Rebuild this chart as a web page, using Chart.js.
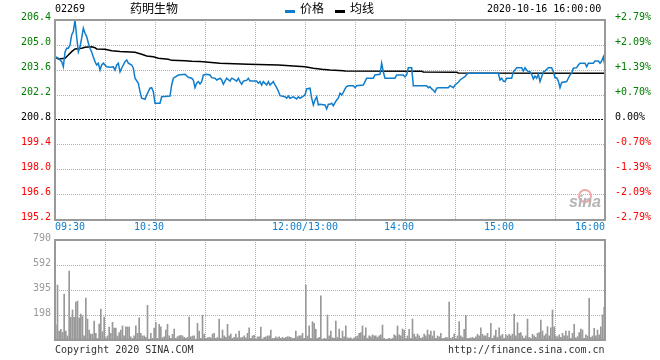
<!DOCTYPE html>
<html>
<head>
<meta charset="utf-8">
<script src="https://cdn.jsdelivr.net/npm/chart.js@4.4.0/dist/chart.umd.min.js"></script>
<style>
  body { margin: 0; background: #fff; }
  #wrap { position: relative; width: 660px; height: 360px; font-family: "DejaVu Sans Mono", monospace; font-size: 10px; color: #000; }
  #wrap canvas { position: absolute; left: 0; }
  .t { position: absolute; line-height: 12px; white-space: pre; }
  .cjk { font-family: "Noto Sans CJK SC", sans-serif; font-size: 12px; line-height: 14px; }
  .key { position: absolute; top: 10px; width: 10px; height: 3px; }
</style>
</head>
<body>
<div id="wrap">
  <canvas id="priceChart" width="660" height="240" style="top:0"></canvas>
  <canvas id="volChart" width="660" height="130" style="top:230px"></canvas>

  <div class="t" style="left:55px;top:3px">02269</div>
  <div class="t cjk" style="left:130px;top:1px">药明生物</div>
  <div class="key" style="left:285px;background:#0f7dcc"></div>
  <div class="t cjk" style="left:300px;top:1px">价格</div>
  <div class="key" style="left:335px;background:#000"></div>
  <div class="t cjk" style="left:350px;top:1px">均线</div>
  <div class="t" style="left:487px;top:3px">2020-10-16 16:00:00</div>

  <div style="position:absolute;left:578px;top:189px;width:10px;height:10px;border:2px solid #f3a7a7;border-radius:50%"></div>
  <div class="t" style="left:569px;top:194px;font:italic bold 16px 'Liberation Sans',sans-serif;color:#b4b4b4;line-height:16px">sina</div>

  <div class="t" style="left:55px;top:344px;color:#333">Copyright 2020 SINA.COM</div>
  <div class="t" style="left:448px;top:344px;color:#333">http://finance.sina.com.cn</div>
</div>

<script>
// 昨收
const prevClose = 200.8;

// 分时价格 (距开盘分钟数, 价格)
const priceMinutes = [0, 2, 4, 5, 6, 7, 8, 9, 10, 11, 12, 13, 14, 15, 16, 17, 18, 19, 20, 21, 22, 23, 24, 25, 26, 27, 28, 29, 31, 33, 35, 36, 37, 38, 39, 40, 42, 43, 44, 46, 47, 48, 50, 51, 52, 54, 55, 56, 57, 58, 59, 60, 63, 64, 69, 70, 71, 74, 78, 80, 82, 83, 84, 85, 86, 87, 88, 89, 91, 93, 94, 96, 97, 99, 100, 101, 102, 103, 105, 106, 107, 109, 110, 111, 112, 113, 115, 116, 117, 121, 122, 123, 124, 125, 127, 128, 129, 131, 132, 133, 134, 135, 138, 139, 140, 141, 143, 145, 146, 147, 149, 150, 151, 153, 154, 155, 156, 157, 158, 159, 162, 163, 164, 165, 166, 167, 168, 169, 170, 171, 172, 173, 174, 175, 176, 179, 180, 181, 185, 186, 187, 191, 192, 195, 196, 197, 198, 204, 205, 209, 210, 211, 212, 214, 215, 223, 224, 225, 226, 227, 228, 229, 230, 236, 237, 239, 240, 242, 243, 245, 246, 247, 248, 266, 267, 268, 269, 270, 271, 274, 275, 276, 277, 280, 281, 282, 283, 284, 285, 286, 287, 288, 289, 290, 291, 292, 293, 294, 296, 298, 299, 300, 301, 302, 303, 304, 307, 308, 309, 310, 311, 313, 314, 315, 318, 319, 320, 323, 324, 326, 327, 328, 329, 330];
const priceValues = [204.34, 204.26, 204.07, 203.78, 204.6, 204.82, 204.82, 205.0, 205.56, 205.75, 206.4, 205.46, 204.62, 204.9, 205.38, 205.94, 205.66, 205.47, 205.11, 204.82, 204.61, 204.33, 204.07, 203.88, 203.98, 203.6, 203.88, 203.98, 203.78, 203.75, 203.78, 203.6, 203.88, 203.98, 203.5, 203.7, 204.07, 204.16, 203.98, 203.88, 203.7, 203.14, 202.86, 202.39, 202.02, 201.96, 202.2, 202.39, 202.58, 202.61, 202.39, 201.74, 201.74, 202.1, 202.14, 202.76, 203.14, 203.32, 203.36, 203.19, 203.14, 203.04, 202.61, 202.86, 202.95, 202.82, 202.95, 203.32, 203.36, 203.32, 203.17, 203.14, 203.04, 203.14, 203.04, 202.8, 202.98, 203.14, 202.98, 203.14, 203.1, 202.98, 203.14, 202.95, 202.8, 202.98, 203.02, 203.14, 202.98, 202.98, 202.86, 202.95, 202.76, 202.95, 202.76, 202.95, 202.76, 202.95, 202.76, 202.61, 202.42, 202.16, 202.1, 202.02, 202.14, 202.02, 202.1, 201.98, 202.1, 202.02, 202.14, 202.2, 202.54, 202.58, 202.02, 201.64, 201.92, 202.1, 201.64, 201.68, 201.64, 201.42, 201.68, 201.68, 201.74, 201.6, 201.77, 201.92, 202.02, 202.3, 202.2, 202.35, 202.54, 202.67, 202.72, 202.72, 202.61, 202.72, 202.76, 202.95, 203.14, 203.14, 203.32, 203.36, 203.98, 203.49, 203.14, 203.14, 203.32, 203.32, 203.21, 203.32, 203.73, 203.73, 202.72, 202.72, 202.61, 202.66, 202.54, 202.48, 202.35, 202.58, 202.61, 202.61, 202.72, 202.61, 202.76, 202.91, 203.04, 203.17, 203.22, 203.36, 203.42, 203.42, 203.04, 203.14, 202.98, 202.95, 203.14, 203.14, 203.5, 203.6, 203.73, 203.73, 203.54, 203.73, 203.6, 203.5, 203.5, 203.36, 203.1, 203.26, 203.14, 203.36, 202.95, 203.22, 203.5, 203.54, 203.73, 203.73, 203.5, 203.17, 203.17, 202.98, 202.61, 202.9, 202.95, 203.14, 203.32, 203.42, 203.7, 203.73, 203.88, 203.98, 203.98, 203.78, 203.98, 203.98, 204.1, 204.1, 203.98, 204.1, 204.34, 203.78];

// 均线
const avgMinutes = [0, 2, 6, 8, 10, 12, 16, 18, 22, 24, 25, 30, 34, 39, 48, 52, 55, 59, 62, 68, 70, 78, 82, 87, 99, 116, 134, 150, 155, 160, 165, 173, 174, 220, 221, 241, 242, 330];
const avgValues = [204.34, 204.22, 204.26, 204.44, 204.63, 204.78, 204.82, 204.87, 204.9, 204.85, 204.78, 204.76, 204.68, 204.63, 204.59, 204.48, 204.38, 204.34, 204.26, 204.2, 204.14, 204.12, 204.09, 204.07, 203.98, 203.92, 203.88, 203.78, 203.7, 203.64, 203.6, 203.56, 203.54, 203.53, 203.49, 203.47, 203.43, 203.42];

// 成交量 (每分钟)
const volume = [
  120, 434, 71, 84, 60, 363, 71, 32, 545, 179,
  237, 179, 300, 308, 176, 205, 190, 32, 332, 166,
  79, 47, 47, 150, 53, 13, 126, 245, 66, 182,
  18, 32, 103, 53, 140, 95, 95, 32, 58, 79,
  111, 32, 105, 103, 103, 26, 13, 32, 111, 53,
  176, 53, 32, 32, 21, 274, 8, 53, 13, 95,
  140, 13, 124, 105, 18, 26, 79, 124, 32, 13,
  45, 87, 13, 26, 32, 37, 32, 21, 13, 21,
  182, 26, 32, 32, 8, 132, 71, 13, 195, 47,
  13, 18, 21, 18, 47, 53, 13, 21, 166, 13,
  79, 32, 21, 124, 32, 47, 13, 21, 47, 18,
  71, 18, 21, 32, 18, 53, 97, 13, 32, 37,
  8, 24, 26, 103, 8, 21, 26, 32, 32, 79,
  13, 13, 26, 18, 26, 13, 21, 13, 21, 26,
  26, 21, 13, 13, 71, 26, 32, 32, 53, 13,
  434, 32, 111, 13, 145, 132, 84, 13, 21, 348,
  5, 13, 10, 198, 32, 71, 18, 13, 150, 21,
  87, 13, 71, 26, 111, 18, 13, 18, 8, 18,
  26, 32, 53, 58, 111, 32, 97, 13, 32, 26,
  40, 32, 32, 21, 32, 40, 118, 13, 5, 8,
  13, 8, 13, 40, 32, 111, 40, 32, 87, 79,
  13, 32, 84, 13, 166, 47, 26, 47, 32, 13,
  21, 47, 32, 79, 40, 71, 32, 71, 13, 32,
  26, 53, 13, 13, 21, 18, 300, 13, 21, 47,
  13, 32, 145, 32, 21, 84, 195, 13, 13, 18,
  21, 13, 26, 45, 32, 97, 45, 32, 32, 53,
  21, 132, 13, 32, 79, 21, 97, 32, 45, 13,
  40, 32, 45, 32, 47, 205, 32, 137, 53, 58,
  32, 13, 32, 166, 21, 13, 45, 32, 21, 53,
  58, 158, 71, 32, 47, 105, 32, 97, 237, 105,
  32, 26, 40, 21, 53, 32, 71, 32, 71, 13,
  53, 124, 18, 26, 58, 87, 79, 13, 40, 32,
  329, 21, 32, 92, 32, 79, 40, 105, 198, 258
];

// 刻度
const priceTicks = [195.2, 196.6, 198.0, 199.4, 200.8, 202.2, 203.6, 205.0, 206.4];
const pctLabels = ['-2.79%', '-2.09%', '-1.39%', '-0.70%', '0.00%', '+0.70%', '+1.39%', '+2.09%', '+2.79%'];
const timeTickMinutes = [0, 60, 150, 210, 270, 330];
const timeTickLabels = ['09:30', '10:30  ', '12:00/13:00', '14:00  ', '15:00  ', '16:00'];
const volTicks = [0, 197.5, 395, 592.5, 790];
const volLabels = ['', '198', '395', '592', '790'];

const MONO = { family: 'DejaVu Sans Mono', size: 10 };
const GRID = '#b0b0b0';
const GREEN = '#008000';
const RED = '#ff0000';

function tickColor(v) {
    if (Math.abs(v - prevClose) < 0.001) return '#000';
    return v > prevClose ? GREEN : RED;
}

// 外框
const framePlugin = {
    id: 'frame',
    afterDraw(chart) {
        const a = chart.chartArea;
        const ctx = chart.ctx;
        ctx.save();
        ctx.strokeStyle = '#999';
        ctx.lineWidth = 2;
        ctx.strokeRect(a.left, a.top, a.right - a.left, a.bottom - a.top);
        ctx.restore();
    }
};

new Chart(document.getElementById('priceChart'), {
    type: 'line',
    data: {
        datasets: [{
            label: '价格',
            data: priceMinutes.map((m, i) => ({ x: m, y: priceValues[i] })),
            borderColor: '#0f7dcc',
            borderWidth: 1.5,
            pointRadius: 0,
            tension: 0,
            yAxisID: 'y'
        }, {
            label: '均线',
            data: avgMinutes.map((m, i) => ({ x: m, y: avgValues[i] })),
            borderColor: '#000',
            borderWidth: 1.5,
            pointRadius: 0,
            tension: 0,
            yAxisID: 'y'
        }]
    },
    options: {
        responsive: false,
        animation: false,
        layout: { padding: { top: 20 } },
        plugins: { legend: { display: false }, tooltip: { enabled: false } },
        scales: {
            x: {
                type: 'linear',
                min: 0,
                max: 330,
                afterFit: s => { s.height = 20; },
                afterBuildTicks: s => { s.ticks = [0, 30, 60, 90, 120, 150, 180, 210, 240, 270, 300, 330].map(v => ({ value: v })); },
                ticks: {
                    autoSkip: false,
                    maxRotation: 0,
                    align: 'inner',
                    padding: 1,
                    color: '#0f7dcc',
                    font: MONO,
                    callback: v => {
                        const i = timeTickMinutes.indexOf(v);
                        return i >= 0 ? timeTickLabels[i] : '';
                    }
                },
                grid: { color: GRID, drawTicks: false, lineWidth: 1 },
                border: { display: false, dash: [1, 1] }
            },
            y: {
                position: 'left',
                min: 195.2,
                max: 206.4,
                afterFit: s => { s.width = 55; },
                afterBuildTicks: s => { s.ticks = priceTicks.map(v => ({ value: v })); },
                ticks: {
                    padding: 4,
                    labelOffset: -3,
                    font: MONO,
                    color: c => tickColor(c.tick.value),
                    callback: v => v.toFixed(1)
                },
                grid: {
                    drawTicks: false,
                    color: c => (c.tick && Math.abs(c.tick.value - prevClose) < 0.001) ? '#000' : GRID
                },
                border: {
                    display: false,
                    dash: c => (c.tick && Math.abs(c.tick.value - prevClose) < 0.001) ? [2, 1] : [1, 1]
                }
            },
            y2: {
                position: 'right',
                min: 195.2,
                max: 206.4,
                afterFit: s => { s.width = 55; },
                afterBuildTicks: s => { s.ticks = priceTicks.map(v => ({ value: v })); },
                ticks: {
                    padding: 2,
                    labelOffset: -3,
                    font: MONO,
                    color: c => tickColor(c.tick.value),
                    callback: (v, i) => pctLabels[i]
                },
                grid: { display: false },
                border: { display: false }
            }
        }
    },
    plugins: [framePlugin]
});

// 分钟标签
const minuteLabels = volume.map((_, i) => {
    let t = i < 150 ? 570 + i + 1 : 780 + (i - 150) + 1;
    return String(Math.floor(t / 60)).padStart(2, '0') + ':' + String(t % 60).padStart(2, '0');
});

new Chart(document.getElementById('volChart'), {
    type: 'bar',
    data: {
        labels: minuteLabels,
        datasets: [{
            label: '成交量',
            data: volume,
            backgroundColor: '#999',
            barThickness: 1,
            borderWidth: 0
        }]
    },
    options: {
        responsive: false,
        animation: false,
        layout: { padding: { top: 10, right: 55, bottom: 20 } },
        plugins: { legend: { display: false }, tooltip: { enabled: false } },
        scales: {
            x: {
                type: 'category',
                afterFit: s => { s.height = 0; },
                ticks: { display: false, autoSkip: false },
                grid: {
                    offset: true,
                    drawTicks: false,
                    color: c => (c.index % 30 === 0) ? GRID : 'rgba(0,0,0,0)'
                },
                border: { display: false, dash: [1, 1] }
            },
            y: {
                min: 0,
                max: 790,
                afterFit: s => { s.width = 55; },
                afterBuildTicks: s => { s.ticks = volTicks.map(v => ({ value: v })); },
                ticks: {
                    padding: 4,
                    labelOffset: -2,
                    font: MONO,
                    color: '#999',
                    callback: (v, i) => volLabels[i]
                },
                grid: { drawTicks: false, color: GRID },
                border: { display: false, dash: [1, 1] }
            }
        }
    },
    plugins: [framePlugin]
});
</script>
</body>
</html>
